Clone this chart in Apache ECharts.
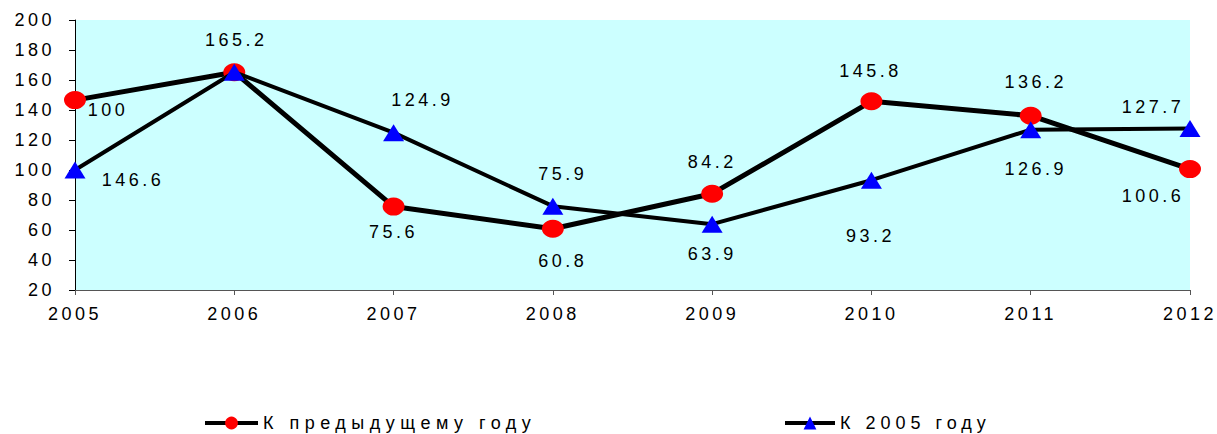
<!DOCTYPE html>
<html>
<head>
<meta charset="utf-8">
<script src="https://cdn.jsdelivr.net/npm/echarts@6/dist/echarts.min.js"></script>
<style>
html,body{margin:0;padding:0;background:#fff;}
#chart{width:1217px;height:434px;}
#chart text{letter-spacing:3.5px;}
</style>
</head>
<body>
<div id="chart"></div>
<script>
var categories = ['2005','2006','2007','2008','2009','2010','2011','2012'];
var prevYear = [146.6, 165.2, 75.6, 60.8, 84.2, 145.8, 136.2, 100.6];
var to2005 = [100, 165.2, 124.9, 75.9, 63.9, 93.2, 126.9, 127.7];
var yTicks = {min: 20, max: 200, interval: 20};
var seriesNames = ['К предыдущему году', 'К 2005 году'];

// label offsets (from marker centre) as placed on the reference picture
var prevOffsets = [[58,80], null, [0,25], [10,32], [0,-32], [-1,-30], [5,-34], [-37,27]];
var to2005Offsets = [[33,-60], [2,-32], [29,-33], [10,-32], [0,30], [-1,56], [5,39], [-37,-21]];

function buildData(values, offsets){
  return values.map(function(v,i){
    var o = offsets[i];
    if(!o) return {value:v, label:{show:false}};
    return {value:v, label:{show:true, position:'inside', offset:o}};
  });
}

var FONT = 'Liberation Sans, Arial, sans-serif';
var labelStyle = {color:'#000', fontSize:18, fontFamily:FONT};

var chart = echarts.init(document.getElementById('chart'), null, {renderer:'svg'});
chart.setOption({
  animation:false,
  backgroundColor:'#ffffff',
  grid:{left:75, right:27, top:20, bottom:144, show:true, backgroundColor:'#CCFFFF', borderWidth:0},
  xAxis:{
    type:'category', data:categories, boundaryGap:false,
    axisLine:{lineStyle:{color:'#555', width:1}},
    axisTick:{show:true, length:5, lineStyle:{color:'#555'}},
    axisLabel:{color:'#000', fontSize:18, fontFamily:FONT, margin:15},
    splitLine:{show:false}
  },
  yAxis:{
    type:'value', min:yTicks.min, max:yTicks.max, interval:yTicks.interval,
    axisLine:{show:true, lineStyle:{color:'#000', width:1}},
    axisTick:{show:true, length:6, lineStyle:{color:'#000'}},
    axisLabel:{color:'#000', fontSize:18, fontFamily:FONT, margin:20},
    splitLine:{show:false}
  },
  legend:[
    {data:[seriesNames[0]], left:198, top:409, itemWidth:53, itemHeight:16, itemGap:0,
     lineStyle:{width:4, color:'#000'},
     textStyle:{color:'#000', fontSize:18, fontFamily:FONT}},
    {data:[seriesNames[1]], left:778, top:409, itemWidth:50, itemHeight:16, itemGap:0,
     lineStyle:{width:4, color:'#000'},
     textStyle:{color:'#000', fontSize:18, fontFamily:FONT}}
  ],
  series:[
    {
      name:seriesNames[0], type:'line', data:buildData(prevYear, prevOffsets),
      symbol:'circle', symbolSize:[22,18],
      lineStyle:{color:'#000', width:5},
      itemStyle:{color:'#FF0000', borderWidth:0},
      label:labelStyle, z:2
    },
    {
      name:seriesNames[1], type:'line', data:buildData(to2005, to2005Offsets),
      symbol:'triangle', symbolSize:[21,17],
      lineStyle:{color:'#000', width:4},
      itemStyle:{color:'#0000FF', borderWidth:0},
      label:labelStyle, z:3
    }
  ]
});

function spaceLegend(){
  var texts = document.querySelectorAll('#chart text');
  texts.forEach(function(t){
    if (t.textContent === seriesNames[0]) t.style.letterSpacing = '5.5px';
    else if (t.textContent === seriesNames[1]) t.style.letterSpacing = '5px';
  });
}
chart.on('finished', spaceLegend);
spaceLegend();
</script>
</body>
</html>
